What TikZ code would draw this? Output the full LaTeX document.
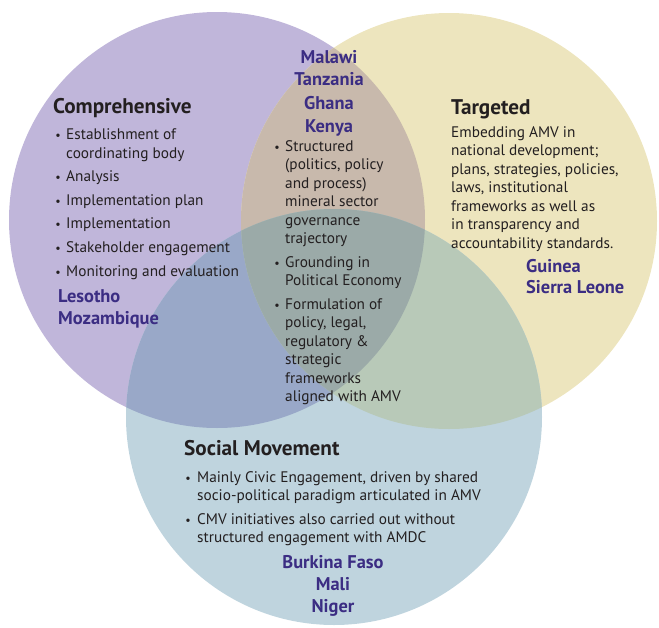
\documentclass[tikz,border=0pt]{standalone}
\usepackage{fontspec}
\setmainfont{PT Sans}
\definecolor{cP}{HTML}{C0B6DA}
\definecolor{cY}{HTML}{EDE5BE}
\definecolor{cB}{HTML}{BFD4DE}
\definecolor{cPY}{HTML}{C8B9AC}
\definecolor{cPB}{HTML}{99A8C8}
\definecolor{cYB}{HTML}{B8C9B8}
\definecolor{cPYB}{HTML}{9BAAA8}
\definecolor{txt}{HTML}{231F20}
\definecolor{ctry}{HTML}{3B2D83}
\begin{document}
\begin{tikzpicture}[x=1pt,y=-1pt,
  body/.style={font=\fontsize{15.3}{18}\selectfont, text=txt, inner sep=0, anchor=base west},
  head/.style={font=\fontsize{21.2}{25}\selectfont\bfseries, text=txt, inner sep=0, anchor=base west},
  ctry/.style={font=\fontsize{18.4}{21}\selectfont\bfseries, text=ctry, inner sep=0, anchor=base},
  ctryl/.style={ctry, anchor=base west},
  bul/.style={font=\fontsize{12}{14}\selectfont, text=txt, inner sep=0, anchor=base},
]
\useasboundingbox (0,0) rectangle (659,627);
% circles and overlaps
\fill[cP] (217,220) circle[radius=208pt];
\fill[cY] (449,221) circle[radius=208pt];
\fill[cB] (334,417) circle[radius=208pt];
\begin{scope}
  \clip (217,220) circle[radius=208pt];
  \fill[cPY] (449,221) circle[radius=208pt];
  \fill[cPB] (334,417) circle[radius=208pt];
\end{scope}
\begin{scope}
  \clip (449,221) circle[radius=208pt];
  \fill[cYB] (334,417) circle[radius=208pt];
\end{scope}
\begin{scope}
  \clip (217,220) circle[radius=208pt];
  \clip (449,221) circle[radius=208pt];
  \fill[cPYB] (334,417) circle[radius=208pt];
\end{scope}

% Comprehensive
\node[head] (ch) at (53,113) {Comprehensive};
\node[bul] (cb1) at (58,139) {\textbullet};
\node[body] (c1) at (66,139) {Establishment of};
\node[body] (c1b) at (66,158) {coordinating body};
\node[bul] (cb2) at (58,181) {\textbullet};
\node[body] (c2) at (66,181) {Analysis};
\node[bul] (cb3) at (58,205) {\textbullet};
\node[body] (c3) at (66,205) {Implementation plan};
\node[bul] (cb4) at (58,228) {\textbullet};
\node[body] (c4) at (66,228) {Implementation};
\node[bul] (cb5) at (58,252) {\textbullet};
\node[body] (c5) at (66,252) {Stakeholder engagement};
\node[bul] (cb6) at (58,276) {\textbullet};
\node[body] (c6) at (66,276) {Monitoring and evaluation};
\node[ctryl] (les) at (58,302) {Lesotho};
\node[ctryl] (moz) at (58,324) {Mozambique};

% Centre
\node[ctry] (mal) at (329,63) {Malawi};
\node[ctry] (tan) at (329,85) {Tanzania};
\node[ctry] (gha) at (329,109) {Ghana};
\node[ctry] (ken) at (329,132) {Kenya};
\node[bul] (mb1) at (277,151) {\textbullet};
\node[body] (m1) at (285,151) {Structured};
\node[body] (m1b) at (285,169.5) {(politics, policy};
\node[body] (m1c) at (285,188) {and process)};
\node[body] (m1d) at (285,206.5) {mineral sector};
\node[body] (m1e) at (285,225) {governance};
\node[body] (m1f) at (285,243.5) {trajectory};
\node[bul] (mb2) at (277,267) {\textbullet};
\node[body] (m2) at (285,267) {Grounding in};
\node[body] (m2b) at (285,285.5) {Political Economy};
\node[bul] (mb3) at (277,309) {\textbullet};
\node[body] (m3) at (285,309) {Formulation of};
\node[body] (m3b) at (285,327.5) {policy, legal,};
\node[body] (m3c) at (285,346) {regulatory \&};
\node[body] (m3d) at (285,364.5) {strategic};
\node[body] (m3e) at (285,383) {frameworks};
\node[body] (m3f) at (285,401.5) {aligned with AMV};

% Targeted
\node[head] (th) at (451,114) {Targeted};
\node[body] (t1) at (451,137) {Embedding AMV in};
\node[body] (t2) at (451,155.5) {national development;};
\node[body] (t3) at (451,174) {plans, strategies, policies,};
\node[body] (t4) at (451,192.5) {laws, institutional};
\node[body] (t5) at (451,211) {frameworks as well as};
\node[body] (t6) at (451,229.5) {in transparency and};
\node[body] (t7) at (451,248) {accountability standards.};
\node[ctryl] (gui) at (526,272) {Guinea};
\node[ctryl] (sie) at (526,293) {Sierra Leone};

% Social Movement
\node[head] (sh) at (184,455) {Social Movement};
\node[bul] (sb1) at (188,482) {\textbullet};
\node[body] (s1) at (197,482) {Mainly Civic Engagement, driven by shared};
\node[body] (s1b) at (197,500.5) {socio-political paradigm articulated in AMV};
\node[bul] (sb2) at (188,524) {\textbullet};
\node[body] (s2) at (197,524) {CMV initiatives also carried out without};
\node[body] (s2b) at (197,542.5) {structured engagement with AMDC};
\node[ctry] (bur) at (333,568) {Burkina Faso};
\node[ctry] (mali) at (333,590) {Mali};
\node[ctry] (nig) at (333,612) {Niger};
\end{tikzpicture}
\end{document}
